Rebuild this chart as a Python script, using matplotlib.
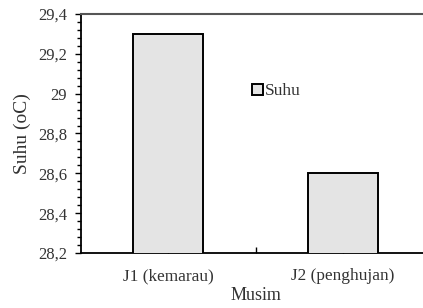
import numpy as np
import matplotlib.pyplot as plt
from matplotlib.ticker import FixedLocator, MultipleLocator, FuncFormatter

# Data
musim = ['J1 (kemarau)', 'J2 (penghujan)']
suhu = [29.3, 28.6]

plt.rcParams['font.family'] = ['Liberation Serif', 'DejaVu Serif']

fig = plt.figure(figsize=(4.23, 3.08), dpi=100)
ax = fig.add_axes([0.1915, 0.1786, 0.826, 0.776])

x = np.arange(len(musim))
ax.bar(x, suhu, width=0.4, color='#e4e4e4', edgecolor='black', linewidth=1.4,
       label='Suhu', zorder=3)

ax.set_xlim(-0.5, 1.5)
ax.set_ylim(28.2, 29.4)

# y axis
ax.yaxis.set_major_locator(MultipleLocator(0.2))
ax.yaxis.set_minor_locator(MultipleLocator(0.04))
ax.yaxis.set_major_formatter(FuncFormatter(lambda v, p: ('%g' % round(v, 2)).replace('.', ',')))
ax.tick_params(axis='y', which='major', direction='out', length=4, width=1, labelsize=12, pad=6,
               labelcolor='#333333')
ax.tick_params(axis='y', which='minor', direction='out', length=3, width=1)

# x axis
ax.set_xticks(x)
ax.set_xticklabels(musim)
ax.xaxis.set_minor_locator(FixedLocator([0.5]))
ax.tick_params(axis='x', which='both', direction='in', length=4, width=1, labelsize=12.4, pad=11,
               labelcolor='#333333')

for s in ['left', 'bottom']:
    ax.spines[s].set_linewidth(1.3)
ax.spines['top'].set_color('#555555')
ax.spines['top'].set_linewidth(1.5)
ax.spines['right'].set_visible(False)

ax.set_ylabel('Suhu (oC)', fontsize=14, labelpad=5, color='#333333')
ax.set_xlabel('Musim', fontsize=13, labelpad=2, color='#333333')

ax.legend(loc='center left', bbox_to_anchor=(0.49, 0.677), frameon=False,
          fontsize=12.5, handlelength=0.6, handleheight=0.6, handletextpad=0.15,
          borderpad=0, borderaxespad=0, labelcolor='#333333')

fig.savefig('out.png', dpi=100)
